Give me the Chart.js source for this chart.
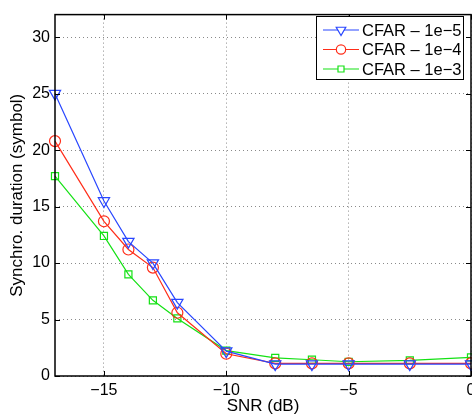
<!DOCTYPE html>
<html>
<head>
<meta charset="utf-8">
<script src="https://cdn.jsdelivr.net/npm/chart.js@4/dist/chart.umd.min.js"></script>
<style>
  body { margin: 0; background: #fff; }
  #wrap { width: 472px; height: 417px; }
</style>
</head>
<body>
<div id="wrap"><canvas id="chart" width="472" height="417"></canvas></div>
<script>
// SNR (dB) values
const snr = [-17, -15, -14, -13, -12, -10, -8, -6.5, -5, -2.5, 0];
// synchro duration (symbol) per CFAR level
const cfar5 = [25.0, 15.5, 11.9, 10.0, 6.5, 2.2, 1.05, 1.05, 1.05, 1.05, 1.05];
const cfar4 = [20.8, 13.7, 11.2, 9.6, 5.6, 1.97, 1.12, 1.12, 1.12, 1.12, 1.12];
const cfar3 = [17.7, 12.4, 9.0, 6.7, 5.1, 2.25, 1.6, 1.44, 1.26, 1.38, 1.65];
const seriesNames = ['CFAR \u2013 1e\u22125', 'CFAR \u2013 1e\u22124', 'CFAR \u2013 1e\u22123'];
const xTicks = [-15, -10, -5, 0];
const yTicks = [0, 5, 10, 15, 20, 25, 30];

const FONT = '"Liberation Sans", Arial, Helvetica, sans-serif';
const minus = v => (v < 0 ? '\u2212' + Math.abs(v) : String(v));

function toPoints(ys) {
    return ys.map((y, i) => ({ x: snr[i], y: y }));
}

const styles = [
    { color: 'rgb(40, 70, 255)', pointStyle: 'triangle', rotation: 180, radius: 6.5 },
    { color: 'rgb(255, 45, 25)', pointStyle: 'circle', rotation: 0, radius: 5.5 },
    { color: 'rgb(20, 225, 20)', pointStyle: 'rect', rotation: 0, radius: 5 }
];

const datasets = [cfar5, cfar4, cfar3].map((ys, i) => ({
    label: seriesNames[i],
    data: toPoints(ys),
    borderColor: styles[i].color,
    backgroundColor: 'rgba(0,0,0,0)',
    borderWidth: 1.2,
    pointStyle: styles[i].pointStyle,
    pointRotation: styles[i].rotation,
    pointRadius: styles[i].radius,
    pointBorderWidth: 1.2,
    pointBorderColor: styles[i].color,
    pointBackgroundColor: 'rgba(0,0,0,0)',
    clip: false,
    tension: 0
}));

// box, inward ticks and legend, matlab style
const boxPlugin = {
    id: 'boxPlugin',
    afterDatasetsDraw(chart) {
        const { ctx, chartArea: a, scales } = chart;
        ctx.save();
        ctx.strokeStyle = '#000';
        ctx.lineWidth = 1.5;
        ctx.strokeRect(a.left, a.top, a.right - a.left, a.bottom - a.top);
        ctx.lineWidth = 1;
        ctx.beginPath();
        xTicks.forEach(v => {
            const px = Math.round(scales.x.getPixelForValue(v)) + 0.5;
            ctx.moveTo(px, a.bottom); ctx.lineTo(px, a.bottom - 5);
            ctx.moveTo(px, a.top); ctx.lineTo(px, a.top + 5);
        });
        yTicks.forEach(v => {
            const py = Math.round(scales.y.getPixelForValue(v)) + 0.5;
            ctx.moveTo(a.left, py); ctx.lineTo(a.left + 5, py);
            ctx.moveTo(a.right, py); ctx.lineTo(a.right - 5, py);
        });
        ctx.stroke();

        // legend
        const lx = 316, ly = 16, lw = 147, lh = 63;
        ctx.fillStyle = '#fff';
        ctx.fillRect(lx, ly, lw, lh);
        ctx.strokeStyle = '#000';
        ctx.lineWidth = 1;
        ctx.strokeRect(lx + 0.5, ly + 0.5, lw, lh);
        ctx.font = '16.5px ' + FONT;
        ctx.textBaseline = 'middle';
        ctx.textAlign = 'left';
        chart.data.datasets.forEach((ds, i) => {
            const y = ly + 14 + i * 19.5;
            ctx.strokeStyle = ds.borderColor;
            ctx.lineWidth = 1.2;
            ctx.beginPath();
            ctx.moveTo(lx + 7, y); ctx.lineTo(lx + 43, y);
            ctx.stroke();
            ctx.fillStyle = '#fff';
            Chart.helpers.drawPoint(ctx, {
                pointStyle: ds.pointStyle,
                rotation: ds.pointRotation,
                radius: ds.pointRadius * 0.85,
                borderWidth: 1.2
            }, lx + 25, y);
            ctx.fillStyle = '#000';
            ctx.fillText(ds.label, lx + 46, y + 1);
        });
        ctx.restore();
    }
};

new Chart(document.getElementById('chart').getContext('2d'), {
    type: 'line',
    data: { datasets: datasets },
    options: {
        responsive: false,
        animation: false,
        layout: { autoPadding: false, padding: { top: 12, right: 1, left: 0, bottom: 0 } },
        plugins: { legend: { display: false }, tooltip: { enabled: false } },
        scales: {
            x: {
                type: 'linear',
                min: -17,
                max: 0,
                afterBuildTicks: s => { s.ticks = xTicks.map(v => ({ value: v })); },
                afterFit: s => { s.height = 41; s.paddingRight = 0; s.paddingLeft = 0; },
                ticks: {
                    color: '#000',
                    font: { family: FONT, size: 16 },
                    padding: 5,
                    maxRotation: 0,
                    callback: v => minus(v)
                },
                grid: { color: '#8a8a8a', lineWidth: 1, drawTicks: false },
                border: { display: false, dash: [1, 3] },
                title: {
                    display: true,
                    text: 'SNR (dB)',
                    color: '#000',
                    font: { family: FONT, size: 17 },
                    padding: { top: 0, bottom: 0 }
                }
            },
            y: {
                min: 0,
                max: 32,
                afterBuildTicks: s => { s.ticks = yTicks.map(v => ({ value: v })); },
                afterFit: s => { s.width = 55; },
                ticks: {
                    color: '#000',
                    font: { family: FONT, size: 16 },
                    padding: 5,
                    callback: v => minus(v)
                },
                grid: { color: '#8a8a8a', lineWidth: 1, drawTicks: false },
                border: { display: false, dash: [1, 3] },
                title: {
                    display: true,
                    text: 'Synchro. duration (symbol)',
                    color: '#000',
                    font: { family: FONT, size: 17 },
                    padding: { top: 7, bottom: 0 }
                }
            }
        }
    },
    plugins: [boxPlugin]
});
</script>
</body>
</html>
